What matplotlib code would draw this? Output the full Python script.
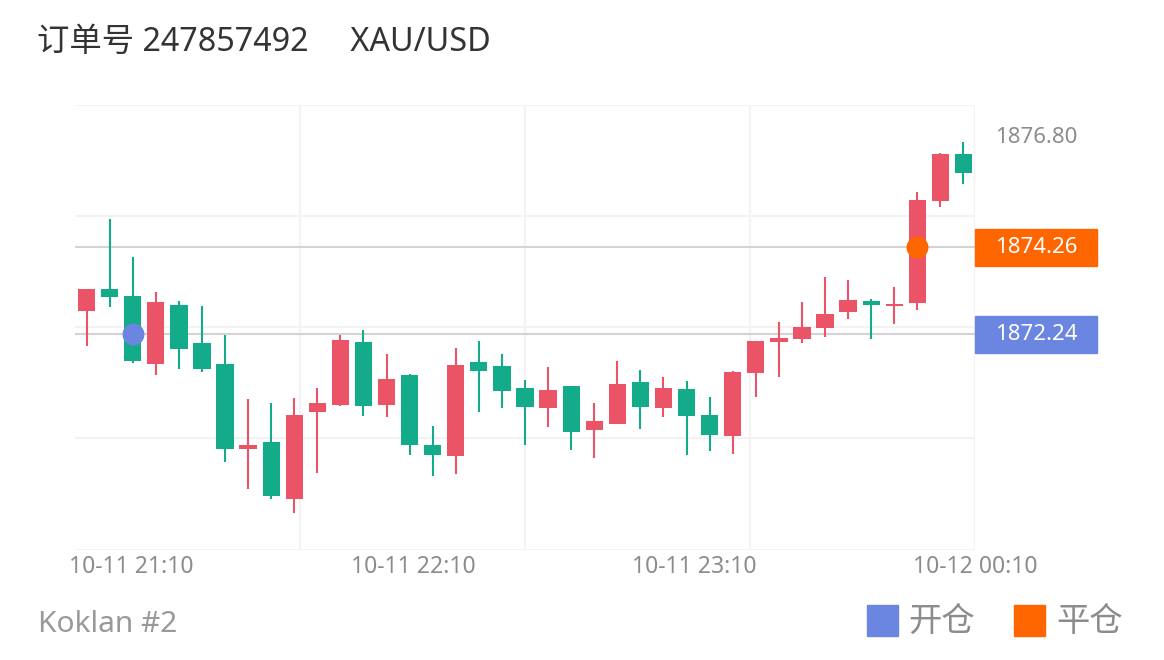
import matplotlib
matplotlib.use('Agg')
import numpy as np
import matplotlib.pyplot as plt
import matplotlib.transforms as mtransforms
from matplotlib.patches import Rectangle

plt.rcParams['font.family'] = ['Noto Sans', 'Noto Sans CJK SC', 'DejaVu Sans']

# 5-minute XAU/USD candles, 10-11 21:00 .. 10-12 00:10
opens = [1872.78, 1873.29, 1873.14, 1871.55, 1872.92, 1872.03, 1871.55, 1869.58, 1869.74, 1868.43,
         1870.44, 1870.60, 1872.06, 1870.60, 1871.31, 1869.67, 1869.43, 1871.59, 1871.50, 1870.99,
         1870.54, 1871.04, 1870.02, 1870.17, 1871.13, 1870.53, 1870.98, 1870.37, 1869.89, 1871.35,
         1872.07, 1872.13, 1872.38, 1872.75, 1873.02, 1872.90, 1872.97, 1875.33, 1876.41]
closes = [1873.29, 1873.11, 1871.63, 1872.99, 1871.89, 1871.44, 1869.58, 1869.67, 1868.51, 1870.37,
          1870.66, 1872.12, 1870.59, 1871.21, 1869.67, 1869.45, 1871.53, 1871.39, 1870.94, 1870.56,
          1870.95, 1869.99, 1870.23, 1871.08, 1870.55, 1871.00, 1870.35, 1869.92, 1871.36, 1872.08,
          1872.15, 1872.40, 1872.72, 1873.03, 1872.92, 1872.95, 1875.35, 1876.41, 1875.97]
highs = [1873.29, 1874.92, 1874.04, 1873.21, 1873.01, 1872.89, 1872.23, 1870.74, 1870.64, 1870.76,
         1871.00, 1872.22, 1872.34, 1871.78, 1871.32, 1870.13, 1871.93, 1872.08, 1871.78, 1871.18,
         1871.49, 1871.05, 1870.64, 1871.62, 1871.41, 1871.26, 1871.17, 1870.78, 1871.40, 1872.08,
         1872.52, 1872.99, 1873.57, 1873.49, 1873.05, 1873.34, 1875.54, 1876.45, 1876.70]
lows = [1871.97, 1872.88, 1871.57, 1871.29, 1871.45, 1871.37, 1869.29, 1868.65, 1868.42, 1868.11,
        1869.04, 1870.58, 1870.35, 1870.33, 1869.45, 1868.97, 1869.00, 1870.45, 1870.53, 1869.69,
        1870.10, 1869.56, 1869.38, 1870.17, 1870.06, 1870.32, 1869.44, 1869.55, 1869.47, 1870.80,
        1871.25, 1872.05, 1872.18, 1872.60, 1872.13, 1872.49, 1872.81, 1875.18, 1875.73]

tick_labels = ['10-11 21:10', '10-11 22:10', '10-11 23:10', '10-12 00:10']
open_idx, open_price = 2, 1872.24
close_idx, close_price = 36, 1874.26
axis_high = 1876.80
y_range = (1867.26, 1877.55)

title = '订单号 247857492     XAU/USD'
account = 'Koklan #2'
legend_labels = ['开仓', '平仓']

up_color = '#eb5466'
down_color = '#14ab8a'
open_color = '#6a86e0'
close_color = '#ff6600'
grey = '#8c8c8c'

W, H = 1164, 660
fig = plt.figure(figsize=(W / 100, H / 100), dpi=100)
ax = fig.add_axes([75 / W, 1 - 549.5 / H, 900 / W, 444.5 / H])

n = len(opens)
for i in range(n):
    o, c, h, l = opens[i], closes[i], highs[i], lows[i]
    col = up_color if c >= o else down_color
    ax.vlines(i, l, h, color=col, lw=1.5, zorder=3)
    ax.bar(i, max(abs(c - o), 0.045), bottom=min(o, c), width=0.75, color=col, zorder=4)

ax.set_xlim(-0.5, n - 0.5)
ax.set_ylim(*y_range)
x0, x1 = ax.get_xlim()

# grid
ax.set_yticks(np.linspace(y_range[0], y_range[1], 5))
ax.yaxis.grid(True, color='#f3f3f3', lw=1.5, zorder=0)
for f in (0.25, 0.5, 0.75, 1.0):
    ax.axvline(x0 + f * (x1 - x0), color='#f3f3f3', lw=1.5, zorder=0)
ax.tick_params(axis='y', left=False, labelleft=False)
for s in ax.spines.values():
    s.set_visible(False)

tick_frac = [0.063, 0.3756, 0.6878, 1.0]
ax.set_xticks([x0 + f * (x1 - x0) for f in tick_frac])
ax.set_xticklabels(tick_labels, fontsize=16.5, color=grey)
ax.tick_params(axis='x', length=0, pad=4)

# open / close price lines
ax.axhline(open_price, color='#d3d3d3', lw=1.5, zorder=2)
ax.axhline(close_price, color='#d3d3d3', lw=1.5, zorder=2)
ax.plot(open_idx, open_price, 'o', ms=15.8, color=open_color, mec='none', zorder=6)
ax.plot(close_idx, close_price, 'o', ms=15.8, color=close_color, mec='none', zorder=6)

trans = mtransforms.blended_transform_factory(ax.transAxes, ax.transData)
box_h = 37 * (y_range[1] - y_range[0]) / 444.5
box_w = 122 / 900
for price, col in ((close_price, close_color), (open_price, open_color)):
    ax.add_patch(Rectangle((1.0, price - box_h / 2), box_w, box_h, transform=trans,
                           color=col, clip_on=False, zorder=5))
    ax.text(1.0 + box_w / 2, price, f'{price:.2f}', transform=trans, ha='center', va='center',
            color='white', fontsize=16, zorder=7, clip_on=False)
ax.text(1.0 + box_w / 2, axis_high, f'{axis_high:.2f}', transform=trans, ha='center',
        va='center', color=grey, fontsize=16)

# header and footer
fig.text(37 / W, 1 - 42 / H, title, fontsize=23.3, color='#333333', va='center', ha='left')
fig.text(38 / W, 1 - 624 / H, account, fontsize=21.5, color='#999999', va='center', ha='left')

sq = 31
for lx, lab, col in ((866.7, legend_labels[0], open_color), (1014, legend_labels[1], close_color)):
    fig.patches.append(Rectangle((lx / W, 1 - 636 / H), sq / W, sq / H, transform=fig.transFigure,
                                 color=col, figure=fig))
    fig.text((lx + sq + 11) / W, 1 - 622 / H, lab, fontsize=24, color=grey, va='center', ha='left')

fig.savefig('out.png', dpi=100)
